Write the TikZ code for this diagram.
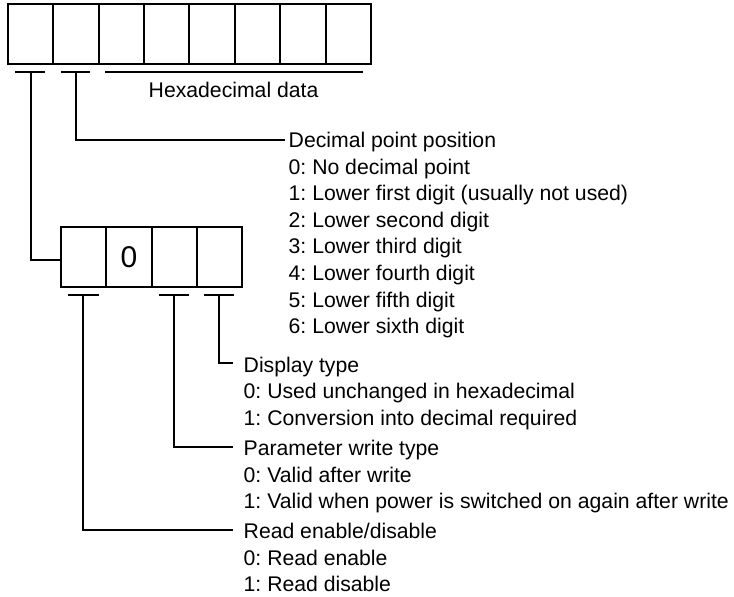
\documentclass[tikz,border=0pt]{standalone}
\usepackage{fontspec}
\setmainfont{Liberation Sans}
\frenchspacing
\begin{document}
\frenchspacing
\begin{tikzpicture}[x=1pt,y=-1pt,
  cell/.style={draw, line width=2pt, minimum width=45.4pt, minimum height=60pt, inner sep=0pt, outer sep=0pt},
  lbl/.style={anchor=base west, inner sep=0pt, font=\fontsize{21.2}{26}\selectfont\frenchspacing},
  conn/.style={line width=2pt, line join=miter}]
\useasboundingbox (0,0) rectangle (734,597);

% top register of 8 digits
\foreach \i in {1,...,8}
  \node[cell] (t\i) at ({7.7+45.4*(\i-0.5)},33.7) {};

% lower 4-digit box
\foreach \i in {1,...,4}
  \node[cell, minimum width=45.25pt] (l\i) at ({61+45.25*(\i-0.5)},257.3) {};
\node[inner sep=0pt, font=\fontsize{30}{30}\selectfont] (zero) at (l2) {0};

% bracket coordinates (top)
\coordinate (a1) at (15,71.7);  \coordinate (a2) at (45,71.7);  \coordinate (am) at (31,71.7);
\coordinate (b1) at (61,71.7);  \coordinate (b2) at (90,71.7);  \coordinate (bm) at (76,71.7);
\coordinate (h1) at (105,71.7); \coordinate (h2) at (362.7,71.7);
% bracket coordinates (lower)
\coordinate (c1) at (68,295);  \coordinate (c2) at (99,295);  \coordinate (cm) at (83,295);
\coordinate (d1) at (159,295); \coordinate (d2) at (189,295); \coordinate (dm) at (174,295);
\coordinate (e1) at (204,295); \coordinate (e2) at (234,295); \coordinate (em) at (219,295);
% connector ends
\coordinate (decE) at (285,140);
\coordinate (dispE) at (233,363);
\coordinate (parE) at (233,447);
\coordinate (readE) at (233,530);

\draw[conn] (a1) -- (a2);
\draw[conn] (b1) -- (b2);
\draw[conn] (h1) -- (h2);
\draw[conn] (c1) -- (c2);
\draw[conn] (d1) -- (d2);
\draw[conn] (e1) -- (e2);

\draw[conn] (am) |- ([yshift=-2.7pt]l1.west);
\draw[conn] (bm) |- (decE);
\draw[conn] (em) |- (dispE);
\draw[conn] (dm) |- (parE);
\draw[conn] (cm) |- (readE);

% texts
\node[lbl] (hex) at (148.5,97.5) {Hexadecimal data};

\foreach \t [count=\i from 0] in {{Decimal point position},{0: No decimal point},{1: Lower first digit (usually not used)},{2: Lower second digit},{3: Lower third digit},{4: Lower fourth digit},{5: Lower fifth digit},{6: Lower sixth digit}}
  \node[lbl] (dec\i) at (288.5,{147.5+26.6*\i}) {\t};

\foreach \t [count=\i from 0] in {{Display type},{0: Used unchanged in hexadecimal},{1: Conversion into decimal required}}
  \node[lbl] (disp\i) at (243.5,{372+26.6*\i}) {\t};

\foreach \t [count=\i from 0] in {{Parameter write type},{0: Valid after write},{1: Valid when power is switched on again after write}}
  \node[lbl] (par\i) at (243.5,{455.5+26.6*\i}) {\t};

\foreach \t [count=\i from 0] in {{Read enable/disable},{0: Read enable},{1: Read disable}}
  \node[lbl] (read\i) at (243.5,{538.5+26.6*\i}) {\t};
\end{tikzpicture}
\end{document}
